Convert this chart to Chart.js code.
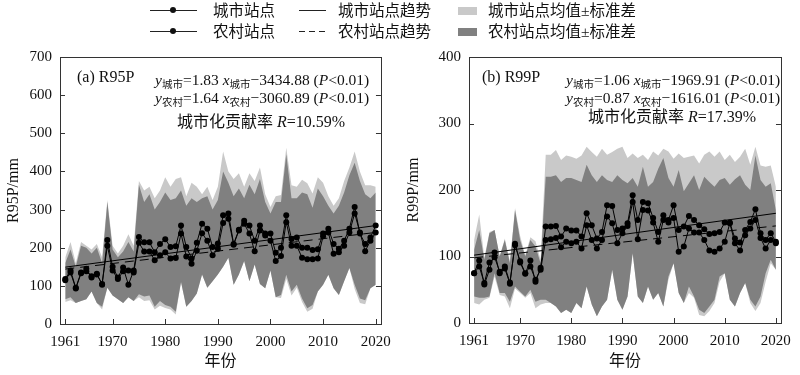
<!DOCTYPE html>
<html lang="zh">
<head>
<meta charset="UTF-8">
<title>R95P / R99P 城市与农村站点</title>
<script src="https://cdn.jsdelivr.net/npm/chart.js"></script>
<style>
  body { margin: 0; background: #fff; }
  #wrap {
    position: relative; width: 800px; height: 375px; overflow: hidden;
    font-family: 'Liberation Serif', 'Noto Sans CJK SC', serif; color: #111;
  }
  canvas { position: absolute; top: 0; }
  #ca { left: 0; }
  #cb { left: 400px; }
  .txt { position: absolute; white-space: nowrap; line-height: 1; transform: translateY(-50%); font-size: 16px; }
  .eq { font-size: 15.5px; }
  .s { font-size: 10.5px; position: relative; top: 3px; }
  .lg { position: absolute; font-size: 15.5px; white-space: nowrap; line-height: 1; transform: translateY(-50%); }
  .mk { position: absolute; }
  .solid { height: 1px; background: #222; }
  .dash { height: 1px; background: repeating-linear-gradient(90deg, #222 0 6px, transparent 6px 10px); }
  .dot { width: 6px; height: 6px; border-radius: 50%; background: #111; }
</style>
</head>
<body>
<div id="wrap">
  <canvas id="ca" width="400" height="375"></canvas>
  <canvas id="cb" width="400" height="375"></canvas>

  <!-- legend -->
  <div class="mk solid" style="left:150px;top:10px;width:47px"></div>
  <div class="mk dot" style="left:170px;top:7px"></div>
  <div class="lg" style="left:213px;top:11px">城市站点</div>
  <div class="mk solid" style="left:150px;top:31px;width:47px"></div>
  <div class="mk dot" style="left:170px;top:28px"></div>
  <div class="lg" style="left:213px;top:32px">农村站点</div>

  <div class="mk solid" style="left:299px;top:10px;width:27px"></div>
  <div class="lg" style="left:338px;top:11px">城市站点趋势</div>
  <div class="mk dash" style="left:299px;top:31px;width:27px"></div>
  <div class="lg" style="left:338px;top:32px">农村站点趋势</div>

  <div class="mk" style="left:458px;top:7px;width:19px;height:8px;background:#c9c9c9"></div>
  <div class="lg" style="left:488px;top:11px">城市站点均值±标准差</div>
  <div class="mk" style="left:458px;top:28px;width:19px;height:8px;background:#808080"></div>
  <div class="lg" style="left:488px;top:32px">农村站点均值±标准差</div>

  <!-- panel a text -->
  <div class="txt" style="left:77px;top:77px">(a) R95P</div>
  <div class="txt eq" style="left:155px;top:80px"><i>y</i><span class="s">城市</span>=1.83 <i>x</i><span class="s">城市</span>−3434.88 (<i>P</i>&lt;0.01)</div>
  <div class="txt eq" style="left:155px;top:98px"><i>y</i><span class="s">农村</span>=1.64 <i>x</i><span class="s">农村</span>−3060.89 (<i>P</i>&lt;0.01)</div>
  <div class="txt" style="left:177px;top:122px">城市化贡献率 <i>R</i>=10.59%</div>

  <!-- panel b text -->
  <div class="txt" style="left:482px;top:77px">(b) R99P</div>
  <div class="txt eq" style="left:566px;top:80px"><i>y</i><span class="s">城市</span>=1.06 <i>x</i><span class="s">城市</span>−1969.91 (<i>P</i>&lt;0.01)</div>
  <div class="txt eq" style="left:566px;top:98px"><i>y</i><span class="s">农村</span>=0.87 <i>x</i><span class="s">农村</span>−1616.01 (<i>P</i>&lt;0.01)</div>
  <div class="txt" style="left:588px;top:117px">城市化贡献率 <i>R</i>=17.39%</div>
</div>

<script>
// years 1961-2020
const years = [];
for (let y = 1961; y <= 2020; y++) years.push(y);
const trendYears = [1961, 2020];
const xTicks = [1961, 1970, 1980, 1990, 2000, 2010, 2020];
const r95Ticks = [0, 100, 200, 300, 400, 500, 600, 700];
const r99Ticks = [0, 100, 200, 300, 400];

// R95P
const r95Urban = [115, 135, 93, 133, 145, 122, 132, 103, 220, 150, 122, 148, 103, 140, 228, 214, 214, 188, 210, 222,
  202, 204, 258, 202, 172, 213, 263, 250, 202, 211, 285, 290, 210, 247, 271, 258, 218, 258, 237, 237,
  187, 200, 285, 223, 227, 200, 200, 194, 196, 237, 250, 210, 197, 218, 250, 307, 237, 210, 227, 258];
const r95Rural = [118, 140, 95, 135, 138, 125, 130, 105, 205, 140, 118, 138, 140, 135, 213, 190, 190, 167, 180, 188,
  172, 173, 237, 177, 158, 192, 238, 218, 180, 197, 265, 276, 208, 245, 263, 237, 191, 245, 232, 218,
  165, 178, 267, 205, 205, 174, 170, 170, 172, 230, 240, 184, 188, 205, 240, 290, 240, 191, 218, 240];
const r95UrbanHi = [175, 215, 160, 215, 205, 195, 210, 175, 325, 205, 185, 205, 235, 205, 375, 350, 360, 330, 350, 385,
  360, 380, 385, 335, 370, 360, 340, 360, 325, 360, 452, 400, 380, 395, 360, 395, 375, 410, 340, 307,
  335, 338, 462, 364, 360, 378, 369, 342, 385, 370, 335, 310, 330, 375, 410, 452, 400, 364, 364, 360];
const r95RuralHi = [160, 195, 150, 205, 200, 185, 200, 160, 320, 195, 175, 190, 215, 190, 365, 320, 340, 300, 320, 345,
  325, 330, 350, 310, 330, 320, 330, 335, 300, 325, 400, 370, 335, 355, 330, 365, 340, 380, 320, 290,
  320, 320, 445, 330, 330, 345, 340, 305, 355, 335, 310, 290, 310, 345, 390, 423, 375, 340, 330, 345];
const r95RuralLo = [65, 70, 55, 60, 65, 85, 55, 45, 95, 75, 65, 55, 70, 60, 78, 72, 75, 45, 60, 50,
  45, 32, 110, 45, 60, 80, 130, 95, 112, 130, 150, 174, 103, 130, 165, 112, 156, 105, 94, 140,
  70, 76, 129, 85, 103, 67, 41, 50, 85, 103, 129, 94, 76, 112, 147, 103, 67, 62, 94, 103];
const r95UrbanLo = [58, 62, 55, 60, 65, 85, 55, 38, 95, 75, 65, 55, 70, 60, 70, 60, 62, 38, 48, 42,
  38, 25, 110, 45, 60, 80, 130, 95, 112, 130, 150, 174, 103, 130, 165, 112, 156, 105, 94, 140,
  70, 68, 118, 75, 95, 58, 32, 40, 85, 103, 129, 94, 76, 112, 147, 92, 55, 52, 94, 103];
const r95UrbanTrend = [149, 258];
const r95RuralTrend = [144, 240];

// R99P
const r99Urban = [75, 94, 58, 80, 106, 75, 82, 59, 119, 91, 74, 94, 62, 83, 145, 145, 146, 130, 142, 139,
  139, 130, 165, 147, 127, 137, 177, 176, 140, 142, 150, 192, 155, 182, 180, 158, 137, 162, 155, 177,
  140, 145, 161, 155, 147, 141, 134, 135, 137, 151, 151, 127, 121, 140, 152, 171, 135, 125, 135, 122];
const r99Rural = [75, 85, 60, 91, 99, 77, 85, 61, 117, 93, 75, 85, 65, 80, 125, 126, 128, 114, 122, 120,
  122, 112, 147, 125, 112, 125, 160, 150, 120, 135, 146, 182, 126, 170, 169, 151, 122, 155, 151, 158,
  107, 115, 142, 136, 136, 125, 109, 107, 112, 122, 150, 120, 109, 132, 142, 155, 128, 112, 125, 120];
const r99UrbanHi = [125, 163, 98, 137, 140, 100, 127, 92, 173, 131, 102, 129, 123, 95, 253, 253, 260, 245, 252, 250,
  247, 252, 265, 257, 250, 262, 253, 257, 262, 265, 248, 255, 248, 253, 245, 258, 252, 262, 258, 247,
  255, 248, 250, 252, 240, 253, 258, 250, 258, 245, 253, 242, 250, 262, 238, 265, 237, 235, 237, 205];
const r99RuralHi = [110, 140, 95, 135, 140, 100, 125, 90, 170, 125, 100, 125, 115, 90, 220, 220, 222, 212, 218, 218,
  215, 212, 238, 222, 212, 222, 215, 212, 222, 215, 210, 218, 205, 235, 205, 212, 232, 248, 218, 205,
  230, 198, 210, 222, 200, 220, 212, 205, 215, 218, 208, 216, 222, 208, 200, 252, 215, 205, 210, 170];
const r99RuralLo = [40, 38, 38, 40, 75, 45, 45, 32, 55, 47, 40, 50, 32, 35, 35, 30, 25, 15, 20, 15,
  30, 22, 55, 28, 10, 25, 35, 80, 35, 20, 40, 105, 40, 30, 55, 35, 45, 25, 70, 90,
  45, 30, 55, 40, 20, 15, 25, 35, 70, 75, 35, 25, 45, 60, 35, 25, 40, 75, 95, 80];
const r99UrbanLo = [30, 28, 35, 38, 70, 42, 40, 22, 52, 45, 38, 45, 22, 28, 30, 30, 25, 15, 20, 15,
  30, 22, 55, 28, 10, 25, 35, 80, 35, 20, 40, 105, 40, 30, 55, 35, 45, 25, 65, 90,
  45, 30, 45, 38, 12, 10, 18, 30, 62, 75, 35, 25, 45, 60, 30, 18, 30, 62, 90, 80];

const r99UrbanTrend = [102, 165];
const r99RuralTrend = [98, 146];

const LIGHT = '#c9c9c9';
const DARK = '#808080';
const FONT = "'Liberation Serif', 'Noto Sans CJK SC', serif";

// frame + inward tick marks
const frameTicks = {
  id: 'frameTicks',
  afterDraw(chart) {
    const { ctx, chartArea: a, scales } = chart;
    ctx.save();
    ctx.strokeStyle = '#333';
    ctx.lineWidth = 1;
    ctx.strokeRect(Math.round(a.left) + 0.5, Math.round(a.top) + 0.5,
      Math.round(a.right - a.left), Math.round(a.bottom - a.top));
    ctx.beginPath();
    scales.x.ticks.forEach(t => {
      const px = Math.round(scales.x.getPixelForValue(t.value)) + 0.5;
      ctx.moveTo(px, a.bottom);
      ctx.lineTo(px, a.bottom - 5);
    });
    scales.y.ticks.forEach(t => {
      const py = Math.round(scales.y.getPixelForValue(t.value)) + 0.5;
      ctx.moveTo(a.left, py);
      ctx.lineTo(a.left + 5, py);
      ctx.moveTo(a.right, py);
      ctx.lineTo(a.right - 5, py);
    });
    ctx.stroke();
    ctx.restore();
  }
};

function buildChart(id, s) {
  const pts = arr => years.map((yr, i) => ({ x: yr, y: arr[i] }));
  const trendPts = arr => trendYears.map((yr, i) => ({ x: yr, y: arr[i] }));
  const band = (arr, color, fill, order) => ({
    data: pts(arr), borderColor: 'rgba(0,0,0,0)', borderWidth: 0, pointRadius: 0,
    backgroundColor: color, fill: fill, order: order
  });
  const dots = (arr, order) => ({
    data: pts(arr), borderColor: '#000', borderWidth: 1, pointRadius: 3,
    pointBackgroundColor: '#000', pointBorderWidth: 0, fill: false, order: order
  });

  return new Chart(document.getElementById(id), {
    type: 'line',
    data: {
      datasets: [
        dots(s.urban, 0),
        dots(s.rural, 1),
        { data: trendPts(s.urbanTrend), borderColor: '#000', borderWidth: 1, pointRadius: 0, fill: false, order: 2 },
        { data: trendPts(s.ruralTrend), borderColor: '#000', borderWidth: 1, borderDash: [9, 6], pointRadius: 0, fill: false, order: 3 },
        band(s.ruralHi, DARK, '+1', 4),
        band(s.ruralLo, DARK, false, 5),
        band(s.urbanHi, LIGHT, '+1', 6),
        band(s.urbanLo, LIGHT, false, 7)
      ]
    },
    options: {
      responsive: false,
      animation: false,
      devicePixelRatio: 1,
      elements: { line: { tension: 0 } },
      layout: { padding: { top: 57, right: s.padRight, left: 0, bottom: 0 } },
      plugins: { legend: { display: false }, tooltip: { enabled: false } },
      scales: {
        x: {
          type: 'linear', min: 1960, max: 2021,
          grid: { display: false, drawTicks: false },
          border: { display: false },
          afterBuildTicks: sc => { sc.ticks = xTicks.map(v => ({ value: v })); },
          afterFit: sc => { sc.height = s.xHeight; },
          ticks: { color: '#111', font: { family: FONT, size: 15 }, padding: 9, maxRotation: 0, callback: v => String(v) },
          title: { display: true, text: '年份', color: '#111', font: { family: FONT, size: 16 }, padding: { top: 0, bottom: 4 } }
        },
        y: {
          min: 0, max: s.yMax,
          grid: { display: false, drawTicks: false },
          border: { display: false },
          afterBuildTicks: sc => { sc.ticks = s.yTicks.map(v => ({ value: v })); },
          afterFit: sc => { sc.width = s.yWidth; },
          ticks: { color: '#111', font: { family: FONT, size: 15 }, padding: 8, callback: v => String(v) },
          title: { display: true, text: s.yTitle, color: '#111', font: { family: FONT, size: 16 }, padding: { top: 4, bottom: 0 } }
        }
      }
    },
    plugins: [frameTicks]
  });
}

buildChart('ca', {
  urban: r95Urban, rural: r95Rural, urbanHi: r95UrbanHi, ruralHi: r95RuralHi,
  ruralLo: r95RuralLo, urbanLo: r95UrbanLo, urbanTrend: r95UrbanTrend, ruralTrend: r95RuralTrend,
  yMax: 700, yTicks: r95Ticks, yTitle: 'R95P/mm', yWidth: 60, padRight: 18, xHeight: 51
});

buildChart('cb', {
  urban: r99Urban, rural: r99Rural, urbanHi: r99UrbanHi, ruralHi: r99RuralHi,
  ruralLo: r99RuralLo, urbanLo: r99UrbanLo, urbanTrend: r99UrbanTrend, ruralTrend: r99RuralTrend,
  yMax: 400, yTicks: r99Ticks, yTitle: 'R99P/mm', yWidth: 69, padRight: 8, xHeight: 52
});
</script>
</body>
</html>
